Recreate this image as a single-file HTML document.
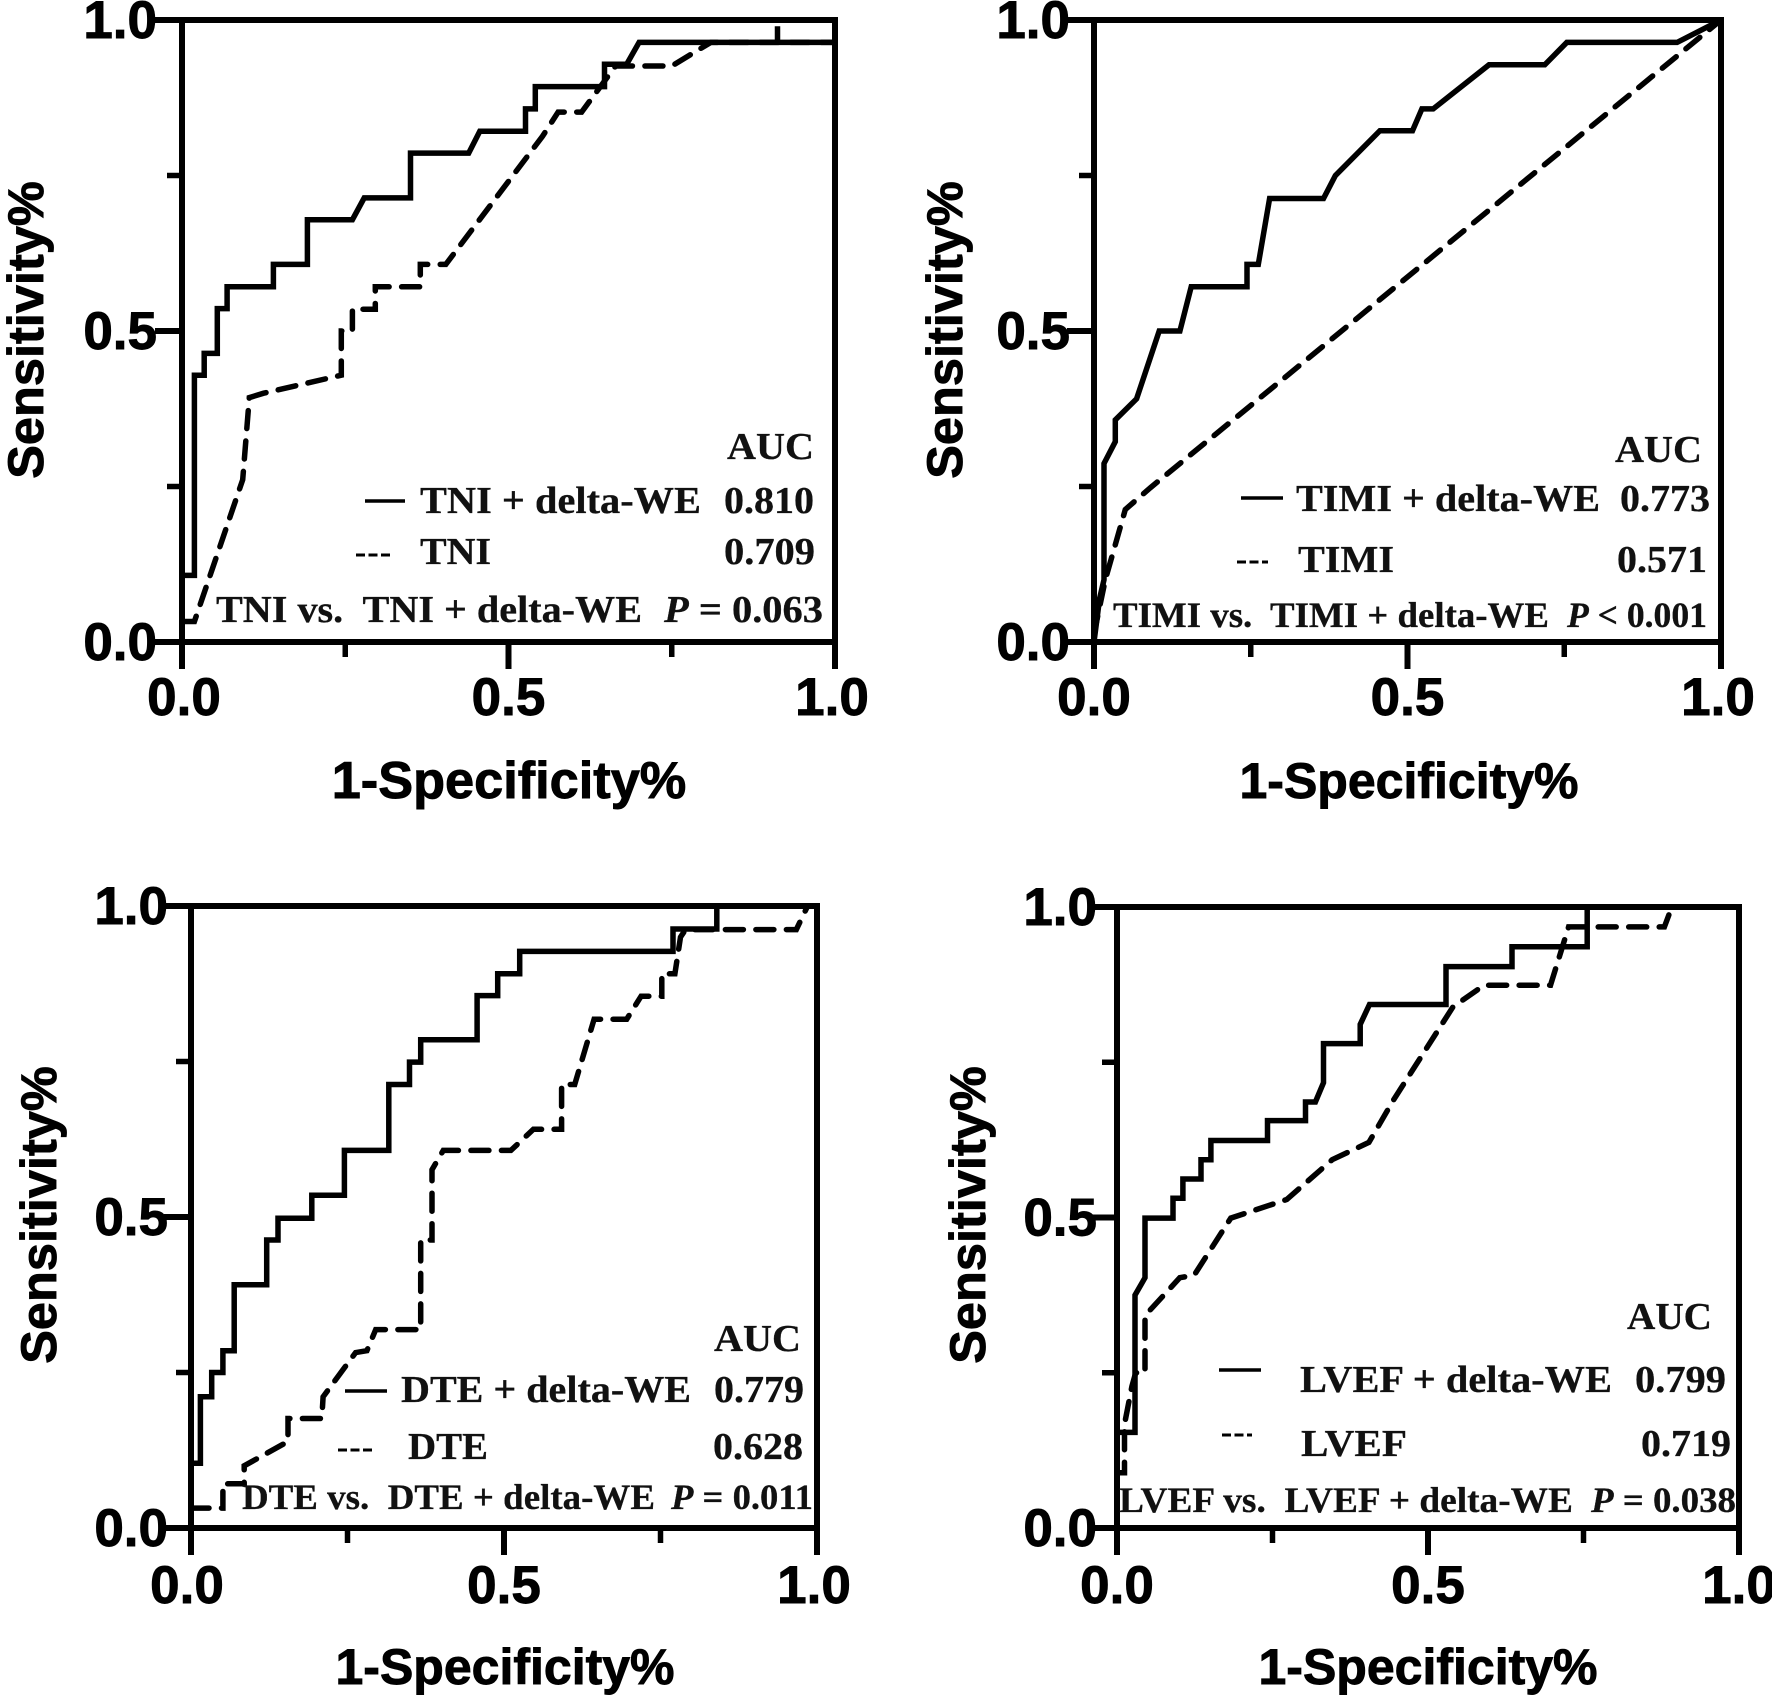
<!DOCTYPE html>
<html>
<head>
<meta charset="utf-8">
<style>
html,body{margin:0;padding:0;background:#fff;}
svg{display:block;}
.tick{font:bold 53px "Liberation Sans",sans-serif;fill:#000;stroke:#000;stroke-width:0.9px;}
.title{font:bold 52px "Liberation Sans",sans-serif;fill:#000;stroke:#000;stroke-width:0.9px;}
.ann{font:bold 38px "Liberation Serif",serif;fill:#111;stroke:#111;stroke-width:0.3px;}
.sm{font:bold 36px "Liberation Serif",serif;fill:#111;stroke:#111;stroke-width:0.3px;}
.it{font-style:italic;}
</style>
</head>
<body>
<svg id="chart" xmlns="http://www.w3.org/2000/svg" width="1772" height="1699" viewBox="0 0 1772 1699">
  <rect width="1772" height="1699" fill="#fff"/>
  <g id="marks"></g>

  <g>
    <text class="ann" x="727" y="459" textLength="87" lengthAdjust="spacingAndGlyphs">AUC</text>
    <line x1="365" x2="405" y1="501" y2="501" stroke="#000" stroke-width="3.5"/>
    <text class="ann" x="420" y="513" textLength="281" lengthAdjust="spacingAndGlyphs">TNI + delta-WE</text>
    <text class="ann" x="724" y="513" textLength="90" lengthAdjust="spacingAndGlyphs">0.810</text>
    <line x1="356" x2="390" y1="555" y2="555" stroke="#000" stroke-width="3" stroke-dasharray="9 3.5"/>
    <text class="ann" x="420" y="564" textLength="71" lengthAdjust="spacingAndGlyphs">TNI</text>
    <text class="ann" x="724" y="564" textLength="91" lengthAdjust="spacingAndGlyphs">0.709</text>
    <text class="ann" x="216" y="622" textLength="426" lengthAdjust="spacingAndGlyphs" xml:space="preserve">TNI vs.  TNI + delta-WE</text>
    <text class="ann" x="664" y="622" textLength="159" lengthAdjust="spacingAndGlyphs"><tspan class="it">P</tspan> = 0.063</text>
  </g>

  <g>
    <text class="ann" x="1615" y="462" textLength="87" lengthAdjust="spacingAndGlyphs">AUC</text>
    <line x1="1241" x2="1283" y1="498" y2="498" stroke="#000" stroke-width="3.5"/>
    <text class="ann" x="1296" y="511" textLength="304" lengthAdjust="spacingAndGlyphs">TIMI + delta-WE</text>
    <text class="ann" x="1620" y="511" textLength="90" lengthAdjust="spacingAndGlyphs">0.773</text>
    <line x1="1237" x2="1268" y1="562" y2="562" stroke="#000" stroke-width="3" stroke-dasharray="9 3.5"/>
    <text class="ann" x="1298" y="572" textLength="96" lengthAdjust="spacingAndGlyphs">TIMI</text>
    <text class="ann" x="1617" y="572" textLength="90" lengthAdjust="spacingAndGlyphs">0.571</text>
    <text class="sm" x="1113" y="627" textLength="436" lengthAdjust="spacingAndGlyphs" xml:space="preserve">TIMI vs.  TIMI + delta-WE</text>
    <text class="sm" x="1567" y="627" textLength="140" lengthAdjust="spacingAndGlyphs"><tspan class="it">P</tspan> &lt; 0.001</text>
  </g>

  <g>
    <text class="ann" x="714" y="1351" textLength="87" lengthAdjust="spacingAndGlyphs">AUC</text>
    <line x1="345" x2="387" y1="1391" y2="1391" stroke="#000" stroke-width="3.5"/>
    <text class="ann" x="401" y="1402" textLength="290" lengthAdjust="spacingAndGlyphs">DTE + delta-WE</text>
    <text class="ann" x="714" y="1402" textLength="90" lengthAdjust="spacingAndGlyphs">0.779</text>
    <line x1="338" x2="373" y1="1450" y2="1450" stroke="#000" stroke-width="3" stroke-dasharray="9 3.5"/>
    <text class="ann" x="408" y="1459" textLength="80" lengthAdjust="spacingAndGlyphs">DTE</text>
    <text class="ann" x="713" y="1459" textLength="90" lengthAdjust="spacingAndGlyphs">0.628</text>
    <text class="sm" x="242" y="1509" textLength="413" lengthAdjust="spacingAndGlyphs" xml:space="preserve">DTE vs.  DTE + delta-WE</text>
    <text class="sm" x="671" y="1509" textLength="142" lengthAdjust="spacingAndGlyphs"><tspan class="it">P</tspan> = 0.011</text>
  </g>

  <g>
    <text class="ann" x="1627" y="1329" textLength="85" lengthAdjust="spacingAndGlyphs">AUC</text>
    <line x1="1219" x2="1261" y1="1370" y2="1370" stroke="#000" stroke-width="3.5"/>
    <text class="ann" x="1300" y="1392" textLength="312" lengthAdjust="spacingAndGlyphs">LVEF + delta-WE</text>
    <text class="ann" x="1635" y="1392" textLength="91" lengthAdjust="spacingAndGlyphs">0.799</text>
    <line x1="1222" x2="1252" y1="1435" y2="1435" stroke="#000" stroke-width="3" stroke-dasharray="9 3.5"/>
    <text class="ann" x="1301" y="1456" textLength="106" lengthAdjust="spacingAndGlyphs">LVEF</text>
    <text class="ann" x="1641" y="1456" textLength="90" lengthAdjust="spacingAndGlyphs">0.719</text>
    <text class="sm" x="1119" y="1512" textLength="454" lengthAdjust="spacingAndGlyphs" xml:space="preserve">LVEF vs.  LVEF + delta-WE</text>
    <text class="sm" x="1591" y="1512" textLength="145" lengthAdjust="spacingAndGlyphs"><tspan class="it">P</tspan> = 0.038</text>
  </g>
</svg>

<script>
// Axis data
const majorTicks = [0, 0.5, 1];
const minorTicks = [0.25, 0.75];
const tickLabels = ['0.0', '0.5', '1.0'];
const xAxisTitle = '1-Specificity%';
const yAxisTitle = 'Sensitivity%';

// TNI panel
const tniComboX = [0,0.019,0.019,0.034,0.034,0.054,0.054,0.069,0.069,0.14,0.14,0.192,0.192,0.261,0.279,0.35,0.35,0.439,0.456,0.526,0.526,0.541,0.541,0.647,0.647,0.681,0.70,0.912,0.912,0.912,1];
const tniComboY = [0.107,0.107,0.429,0.429,0.464,0.464,0.536,0.536,0.571,0.571,0.607,0.607,0.679,0.679,0.714,0.714,0.786,0.786,0.821,0.821,0.857,0.857,0.893,0.893,0.929,0.929,0.964,0.964,0.99,0.964,0.964];
const tniBaseX = [0,0.019,0.093,0.103,0.125,0.244,0.244,0.261,0.261,0.296,0.296,0.365,0.365,0.404,0.552,0.576,0.612,0.664,0.75,0.794,0.81,1];
const tniBaseY = [0.033,0.033,0.261,0.393,0.4,0.429,0.5,0.5,0.535,0.535,0.571,0.571,0.607,0.607,0.813,0.852,0.852,0.926,0.926,0.954,0.964,0.964];

// TIMI panel
const timiComboX = [0,0.009,0.016,0.016,0.034,0.034,0.068,0.104,0.137,0.155,0.244,0.244,0.262,0.28,0.366,0.385,0.456,0.508,0.523,0.541,0.63,0.719,0.754,0.93,1];
const timiComboY = [0,0.07,0.1,0.287,0.322,0.357,0.391,0.5,0.5,0.571,0.571,0.607,0.607,0.713,0.713,0.75,0.822,0.822,0.857,0.857,0.928,0.928,0.964,0.964,1];
const timiBaseX = [0,0.018,0.05,0.09,0.632,1];
const timiBaseY = [0.013,0.1,0.213,0.248,0.696,1];

// DTE panel
const dteComboX = [0,0.015,0.015,0.033,0.033,0.051,0.051,0.069,0.069,0.121,0.121,0.139,0.139,0.193,0.193,0.245,0.245,0.316,0.316,0.349,0.349,0.367,0.367,0.457,0.457,0.49,0.49,0.525,0.525,0.77,0.77,0.84,0.84,1];
const dteComboY = [0.104,0.104,0.211,0.211,0.25,0.25,0.285,0.285,0.391,0.391,0.463,0.463,0.498,0.498,0.535,0.535,0.607,0.607,0.713,0.713,0.749,0.749,0.785,0.785,0.856,0.856,0.891,0.891,0.927,0.927,0.963,0.963,1,1];
const dteBaseX = [0,0.051,0.051,0.085,0.085,0.155,0.155,0.209,0.211,0.263,0.281,0.295,0.367,0.367,0.385,0.385,0.403,0.511,0.547,0.592,0.592,0.613,0.644,0.696,0.719,0.752,0.752,0.773,0.782,0.79,0.967,0.985,1];
const dteBaseY = [0.032,0.032,0.071,0.071,0.1,0.139,0.176,0.176,0.211,0.282,0.285,0.319,0.319,0.463,0.463,0.576,0.607,0.607,0.641,0.641,0.713,0.713,0.818,0.818,0.855,0.855,0.891,0.891,0.95,0.962,0.962,1,1];

// LVEF panel
const lvefComboX = [0,0.029,0.029,0.045,0.045,0.09,0.09,0.106,0.106,0.135,0.135,0.151,0.151,0.242,0.242,0.303,0.303,0.319,0.332,0.332,0.391,0.391,0.406,0.529,0.529,0.635,0.635,0.756,0.756,1];
const lvefComboY = [0.154,0.154,0.375,0.403,0.499,0.499,0.531,0.531,0.562,0.562,0.593,0.593,0.624,0.624,0.656,0.656,0.686,0.686,0.717,0.78,0.78,0.811,0.843,0.843,0.904,0.904,0.936,0.936,1,1];
const lvefBaseX = [0,0.012,0.012,0.024,0.03,0.045,0.045,0.101,0.124,0.183,0.273,0.346,0.405,0.445,0.54,0.59,0.697,0.726,0.88,0.892,1];
const lvefBaseY = [0.089,0.089,0.167,0.228,0.25,0.25,0.342,0.403,0.407,0.499,0.529,0.593,0.621,0.69,0.839,0.874,0.874,0.968,0.968,1,1];

const svgNS = 'http://www.w3.org/2000/svg';
const root = document.getElementById('marks');

function make(parent, tag, attrs, text) {
  const el = document.createElementNS(svgNS, tag);
  for (const k in attrs) el.setAttribute(k, attrs[k]);
  if (text !== undefined) el.textContent = text;
  parent.appendChild(el);
  return el;
}

function drawPanel(id, box, comboX, comboY, baseX, baseY) {
  const sx = v => box.x0 + v * (box.x1 - box.x0);
  const sy = v => box.y0 - v * (box.y0 - box.y1);
  const g = make(root, 'g', {});
  
  

  const frame = make(g, 'rect', {x: sx(0), y: sy(1), width: sx(1) - sx(0), height: sy(0) - sy(1), fill: 'none', stroke: '#000', 'stroke-width': 6});
  
  

  majorTicks.forEach((t, i) => {
    const xt = make(g, 'line', {x1: sx(t), x2: sx(t), y1: sy(0), y2: sy(0) + 27, stroke: '#000', 'stroke-width': 6});
    
    
    const yt = make(g, 'line', {x1: sx(0), x2: sx(0) - 27, y1: sy(t), y2: sy(t), stroke: '#000', 'stroke-width': 6});
    
    
    const xl = make(g, 'text', {class: 'tick', x: sx(t) + box.xLabelDx[i], y: box.xLabelY, 'text-anchor': 'middle'}, tickLabels[i]);
    
    
    const yl = make(g, 'text', {class: 'tick', x: box.yLabelX, y: sy(t) + 18, 'text-anchor': 'end'}, tickLabels[i]);
    
    
  });
  minorTicks.forEach(t => {
    const xt = make(g, 'line', {x1: sx(t), x2: sx(t), y1: sy(0), y2: sy(0) + 15, stroke: '#000', 'stroke-width': 5.5});
    
    
    const yt = make(g, 'line', {x1: sx(0), x2: sx(0) - 15, y1: sy(t), y2: sy(t), stroke: '#000', 'stroke-width': 5.5});
    
    
  });

  const pts = (xs, ys) => xs.map((v, i) => sx(v).toFixed(1) + ',' + sy(ys[i]).toFixed(1)).join(' ');
  const base = make(g, 'polyline', {points: pts(baseX, baseY), fill: 'none', stroke: '#000', 'stroke-width': 5.5, 'stroke-dasharray': '18 12.5', 'stroke-linecap': 'round', 'stroke-linejoin': 'miter'});
  
  
  const combo = make(g, 'polyline', {points: pts(comboX, comboY), fill: 'none', stroke: '#000', 'stroke-width': 5.5, 'stroke-linejoin': 'miter'});
  
  

  const xTitle = make(g, 'text', {class: 'title', x: box.xTitleX, y: box.xTitleY, 'text-anchor': 'middle', style: 'font-size:' + box.titleSize + 'px'}, xAxisTitle);
  
  
  const yTitle = make(g, 'text', {class: 'title', 'text-anchor': 'middle', transform: 'translate(' + box.yTitleX + ',' + box.yTitleY + ') rotate(-90)', style: 'font-size:50.5px'}, yAxisTitle);
  
  
}

drawPanel('tni',  {x0: 182, x1: 835,  y0: 642,  y1: 20,  xLabelY: 715,  yLabelX: 157,  xLabelDx: [2, 0, -3],  titleSize: 52.3, xTitleX: 509,  xTitleY: 798,  yTitleX: 43,  yTitleY: 330},  tniComboX, tniComboY, tniBaseX, tniBaseY);
drawPanel('timi', {x0: 1094, x1: 1721, y0: 642, y1: 20,  xLabelY: 715,  yLabelX: 1070, xLabelDx: [0, 0, -3],  titleSize: 50,   xTitleX: 1409, xTitleY: 798,  yTitleX: 962, yTitleY: 330},  timiComboX, timiComboY, timiBaseX, timiBaseY);
drawPanel('dte',  {x0: 191, x1: 817,  y0: 1528, y1: 906, xLabelY: 1603, yLabelX: 168,  xLabelDx: [-4, 0, -3], titleSize: 50,   xTitleX: 505,  xTitleY: 1684, yTitleX: 56,  yTitleY: 1215}, dteComboX, dteComboY, dteBaseX, dteBaseY);
drawPanel('lvef', {x0: 1117, x1: 1739, y0: 1528, y1: 907, xLabelY: 1603, yLabelX: 1097, xLabelDx: [0, 0, 0],   titleSize: 50,   xTitleX: 1428, xTitleY: 1684, yTitleX: 985, yTitleY: 1215}, lvefComboX, lvefComboY, lvefBaseX, lvefBaseY);
</script>
</body>
</html>
